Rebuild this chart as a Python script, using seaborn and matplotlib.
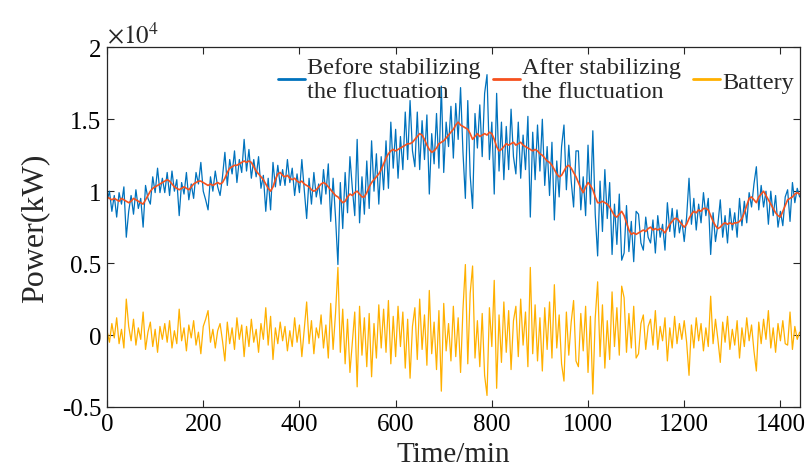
import matplotlib
matplotlib.use("Agg")
import numpy as np
import pandas as pd
import matplotlib.pyplot as plt
import seaborn as sns

# time axis (minutes), sampled every 5 minutes
time_min = list(range(0, 1441, 5))

# power after stabilizing the fluctuation (units of 1000 kW)
after_k = [
    9.6, 9.5, 9.4, 9.5, 9.4, 9.3, 9.5, 9.4, 9.3, 9.2, 9.3, 9.5,
    9.4, 9.3, 9.2, 9.1, 9.4, 9.7, 10.0, 10.2, 10.3, 10.4, 10.5, 10.6,
    10.7, 10.8, 10.7, 10.5, 10.3, 10.2, 10.1, 10.2, 10.3, 10.2, 10.1, 10.3,
    10.5, 10.6, 10.7, 10.7, 10.6, 10.5, 10.4, 10.5, 10.4, 10.5, 10.6, 10.5,
    10.6, 10.9, 11.3, 11.6, 11.7, 11.8, 11.8, 11.9, 12.0, 12.1, 12.0, 12.1,
    12.0, 11.7, 11.4, 11.2, 11.0, 10.8, 10.5, 10.2, 10.0, 10.3, 10.8, 11.2,
    11.3, 11.1, 11.0, 11.1, 10.9, 10.8, 10.9, 10.7, 10.6, 10.7, 10.5, 10.4,
    10.3, 10.1, 10.0, 10.1, 10.3, 10.5, 10.6, 10.5, 10.3, 10.1, 9.9, 9.7,
    9.6, 9.4, 9.2, 9.3, 9.6, 9.8, 9.7, 9.9, 10.0, 9.8, 9.6, 9.6,
    9.9, 10.3, 10.6, 10.8, 11.0, 11.2, 11.5, 11.9, 12.3, 12.6, 12.8, 12.9,
    12.8, 12.9, 13.0, 13.1, 13.2, 13.3, 13.3, 13.4, 13.6, 13.8, 14.0, 13.9,
    13.6, 13.2, 12.9, 12.7, 12.8, 13.0, 13.3, 13.4, 13.5, 13.7, 13.9, 14.1,
    14.3, 14.6, 14.8, 14.6, 14.5, 14.4, 14.3, 14.0, 13.6, 13.8, 14.0, 13.8,
    13.9, 14.0, 13.9, 14.1, 14.0, 13.6, 13.1, 12.8, 12.9, 13.1, 13.3, 13.2,
    13.3, 13.4, 13.2, 13.3, 13.4, 13.2, 13.1, 13.0, 12.9, 12.8, 12.9, 12.8,
    12.6, 12.5, 12.3, 12.1, 12.0, 11.8, 11.5, 11.2, 11.0, 11.1, 11.4, 11.7,
    11.8, 11.6, 11.3, 11.0, 10.6, 10.2, 9.9, 10.3, 10.6, 10.4, 10.1, 9.6,
    9.2, 9.2, 9.3, 9.2, 9.1, 8.9, 8.6, 8.3, 8.2, 8.4, 8.6, 8.3,
    7.8, 7.3, 7.0, 7.1, 7.0, 7.1, 7.2, 7.3, 7.2, 7.4, 7.5, 7.3,
    7.4, 7.3, 7.4, 7.3, 7.1, 7.4, 7.7, 7.9, 8.1, 8.1, 7.9, 7.7,
    7.5, 7.7, 8.1, 8.4, 8.6, 8.5, 8.7, 8.6, 8.8, 8.8, 8.7, 8.3,
    7.9, 7.6, 7.4, 7.5, 7.7, 7.8, 7.7, 7.8, 7.7, 7.8, 7.8, 7.9,
    8.1, 8.5, 9.0, 9.5, 9.6, 9.4, 9.2, 9.6, 9.8, 10.0, 9.7, 9.4,
    9.1, 8.8, 8.5, 8.3, 8.2, 8.6, 9.0, 9.4, 9.5, 9.6, 9.8, 9.9,
    9.8,
]

# battery power = after - before (units of 1000 kW)
battery_k = [
    0.3, -0.5, 0.8, -0.2, 1.2, -0.6, 0.4, -0.9, 2.5, 0.6, -0.4, 1.1,
    -0.7, 0.5, -0.3, 1.6, -1.0, 0.2, 0.9, -0.8, 0.4, -1.2, 0.6, -0.3,
    0.8, -0.5, 1.0, -0.9, 0.3, -0.6, 1.8, -0.4, 0.5, -1.1, 0.7, -0.2,
    1.0, -0.7, 0.2, -1.3, 0.6, 1.1, 1.7, -0.5, 0.4, -0.9, 0.3, 0.8,
    -0.4, -1.8, 0.9, -0.6, 0.5, -1.0, 1.2, -0.3, 0.7, -1.5, 0.6, -0.8,
    1.1, -0.5, 0.4, -1.2, 0.8, -0.3, 1.9, -0.7, 1.3, -1.7, 0.5, -0.6,
    0.9, -0.4, 0.6, -1.1, 0.3, -0.8, 1.2, -0.5, 0.7, -1.5, 0.4, 2.3,
    -0.6, 1.0, -1.3, 0.5, -0.2, 1.4, -0.9, 0.7, -1.6, 2.2, -1.0, 1.5,
    4.7, -1.2, 1.8, -2.0, 1.1, -2.6, -0.5, 1.6, -3.6, 2.0, -1.4, 1.2,
    -2.2, 1.5, -2.9, 0.8, -1.6, 2.1, -0.9, 1.8, -1.2, 2.4, -2.0, 1.3,
    -1.5, 2.0, -0.8, 1.6, -2.3, 1.1, -3.0, 0.6, 1.9, -1.7, 2.5, -1.0,
    1.4, -2.1, 3.1, -1.3, 0.9, -2.4, 1.7, -3.9, 2.2, -1.1, 0.8, -1.8,
    2.0, -1.5, 1.2, -2.6, 1.8, 4.9, -2.0, 2.9, 4.8, -1.6, 1.0, -2.2,
    1.5, -2.8, -4.2, 1.9, -0.8, 3.8, -3.7, 1.4, -1.9, 2.3, -1.2, 1.7,
    -2.4, 1.0, 2.0, -1.5, 2.5, -0.7, 1.6, -2.2, 4.7, -1.3, 2.1, -1.8,
    1.2, -2.5, 1.9, -1.0, 2.3, -1.6, 3.5, -0.9, 1.4, -2.0, -3.2, 1.6,
    -1.4, 0.9, 2.4, -1.8, -2.2, 1.5, -1.1, 2.0, -2.6, 1.3, -4.1, 1.2,
    3.7, -1.5, 2.1, -2.3, 1.0, -1.7, 3.0, -0.8, 1.9, -1.4, 3.4, 2.6,
    -1.2, 1.5, -0.9, 2.0, -1.6, -1.3, 0.8, 1.4, -1.0, 0.6, 1.1, -0.7,
    1.7, -1.0, 0.6, -0.4, 1.2, -1.8, 0.5, -0.9, 1.3, -0.6, 0.8, -0.3,
    1.0, -0.5, -2.8, 0.7, -0.9, 1.2, -0.4, 0.8, -1.1, 0.5, -0.8, 2.7,
    -0.6, 1.1, -0.3, -1.9, 0.9, -0.5, 1.3, -1.0, 0.4, -0.7, 1.0, -1.6,
    0.5, -0.8, 1.2, -0.4, 0.7, -1.1, -2.5, 0.9, -0.6, 1.1, -0.3, 1.7,
    -0.9, 0.5, -1.2, 0.8, -0.4, 1.0, -0.6, -0.7, 1.6, -1.0, 0.6, -0.3,
    0.2,
]

x_ticks = [0, 200, 400, 600, 800, 1000, 1200, 1400]
y_ticks = [-5000, 0, 5000, 10000, 15000, 20000]
y_tick_labels = ["-0.5", "0", "0.5", "1", "1.5", "2"]

after = np.array(after_k) * 1000.0
battery = np.array(battery_k) * 1000.0
before = after - battery

df = pd.DataFrame({"t": time_min, "before": before, "after": after, "battery": battery})

sns.set_style("ticks")
plt.rcParams["font.family"] = ["Liberation Serif", "DejaVu Serif"]
plt.rcParams["mathtext.fontset"] = "stix"

fig = plt.figure(figsize=(8.11, 4.77), dpi=100)
ax = fig.add_axes([0.132, 0.1447, 0.854, 0.754])

sns.lineplot(data=df, x="t", y="before", ax=ax, color="#0072BD", linewidth=0.9,
             estimator=None, label="Before stabilizing\nthe fluctuation")
sns.lineplot(data=df, x="t", y="after", ax=ax, color="#F5511E", linewidth=1.2,
             estimator=None, label="After stabilizing\nthe fluctuation")
sns.lineplot(data=df, x="t", y="battery", ax=ax, color="#FFB000", linewidth=0.9,
             estimator=None, label="Battery")

ax.set_xlim(0, 1440)
ax.set_ylim(-5000, 20000)
ax.set_xticks(x_ticks)
ax.set_xticklabels([str(v) for v in x_ticks])
ax.set_yticks(y_ticks)
ax.set_yticklabels(y_tick_labels)

ax.tick_params(direction="in", top=True, right=True, length=5, width=0.8,
               labelsize=18, pad=4, colors="#262626")
for tl in ax.get_xticklabels() + ax.get_yticklabels():
    tl.set_color("black")
for s in ax.spines.values():
    s.set_visible(True)
    s.set_color("#262626")
    s.set_linewidth(0.9)

ax.set_xlabel("Time/min", fontsize=21, labelpad=5)
ax.set_ylabel("Power(kW)", fontsize=23, labelpad=9)

ax.text(0.0, 1.0, r"$\times10^{4}$", transform=ax.transAxes, fontsize=18,
        ha="left", va="bottom")

leg = ax.legend(loc="upper right", bbox_to_anchor=(1.006, 1.0), ncol=3,
                frameon=False, fontsize=17.5, handlelength=1.1, handletextpad=0.1,
                columnspacing=0.5, borderaxespad=0.0)
for line in leg.get_lines():
    line.set_linewidth(2.0)

fig.savefig("out.png", dpi=100)
